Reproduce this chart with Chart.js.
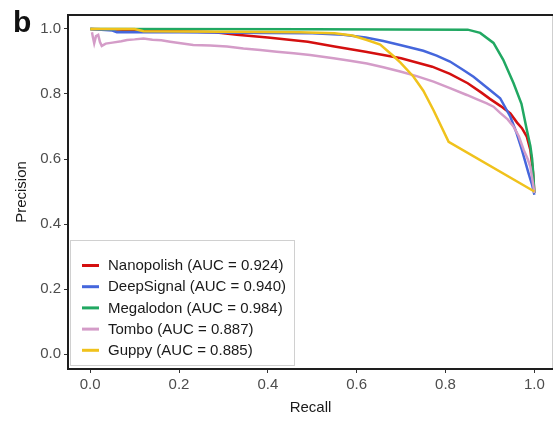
<!DOCTYPE html>
<html>
<head>
<meta charset="utf-8">
<script src="https://cdn.jsdelivr.net/npm/chart.js@4/dist/chart.umd.min.js"></script>
<style>
    html, body { margin: 0; padding: 0; background: #ffffff; }
    #wrap { width: 555px; height: 421px; position: relative; }
</style>
</head>
<body>
<div id="wrap"><canvas id="pr_chart"></canvas></div>
<script>
    'use strict';

    // series names and AUC values (from the legend)
    var series_names = ["Nanopolish", "DeepSignal", "Megalodon", "Tombo", "Guppy"];
    var series_auc = ["0.924", "0.940", "0.984", "0.887", "0.885"];
    var series_colors = ["#d40f0f", "#4566dc", "#21a862", "#d49cc8", "#f0c21c"];

    // tick values
    var x_ticks = [0, 0.2, 0.4, 0.6, 0.8, 1.0];
    var y_ticks = [0, 0.2, 0.4, 0.6, 0.8, 1.0];

    // recall / precision
    var recall_nanopolish = [0, 0.1, 0.2, 0.28, 0.33, 0.4, 0.49, 0.55, 0.62, 0.7, 0.77, 0.81, 0.85, 0.88, 0.9, 0.925, 0.946, 0.961, 0.972, 0.983, 0.991, 0.997, 1.0];
    var precision_nanopolish = [1.0, 0.997, 0.993, 0.99, 0.982, 0.974, 0.961, 0.946, 0.93, 0.91, 0.884, 0.862, 0.833, 0.805, 0.785, 0.762, 0.74, 0.712, 0.695, 0.669, 0.628, 0.56, 0.495];

    var recall_deepsignal = [0, 0.05, 0.06, 0.2, 0.4, 0.5, 0.57, 0.62, 0.66, 0.7, 0.75, 0.78, 0.81, 0.84, 0.863, 0.9, 0.923, 0.946, 0.96, 0.972, 0.987, 0.995, 1.0];
    var precision_deepsignal = [1.0, 0.995, 0.99, 0.99, 0.988, 0.987, 0.982, 0.974, 0.963, 0.95, 0.933, 0.918, 0.9, 0.874, 0.853, 0.812, 0.787, 0.73, 0.68, 0.628, 0.556, 0.52, 0.49];

    var recall_megalodon = [0, 0.03, 0.5, 0.85, 0.878, 0.908, 0.93, 0.953, 0.971, 0.983, 0.991, 0.995, 0.998, 1.0];
    var precision_megalodon = [1.0, 1.0, 0.999, 0.998, 0.988, 0.957, 0.905, 0.834, 0.77, 0.69, 0.64, 0.6, 0.545, 0.495];

    var recall_tombo = [0.004, 0.006, 0.009, 0.013, 0.018, 0.022, 0.026, 0.035, 0.05, 0.07, 0.083, 0.1, 0.12, 0.14, 0.16, 0.18, 0.2, 0.232, 0.27, 0.308, 0.345, 0.383, 0.42, 0.458, 0.495, 0.548, 0.585, 0.623, 0.66, 0.698, 0.735, 0.773, 0.81, 0.848, 0.87, 0.893, 0.908, 0.923, 0.94, 0.953, 0.965, 0.976, 0.985, 0.991, 0.997, 1.0];
    var precision_tombo = [0.99, 0.975, 0.956, 0.978, 0.982, 0.96, 0.948, 0.955, 0.958, 0.962, 0.966, 0.968, 0.971, 0.967, 0.965, 0.961, 0.957, 0.951, 0.949, 0.946, 0.94, 0.935, 0.93, 0.925, 0.92, 0.91, 0.902, 0.894, 0.882, 0.869, 0.855, 0.838, 0.818, 0.797, 0.784, 0.771, 0.761, 0.742, 0.722, 0.7, 0.67, 0.628, 0.6, 0.576, 0.525, 0.495];

    var recall_guppy = [0, 0.1, 0.12, 0.47, 0.55, 0.59, 0.623, 0.653, 0.68, 0.698, 0.728, 0.75, 0.773, 0.807, 1.0];
    var precision_guppy = [1.0, 1.0, 0.993, 0.99, 0.987, 0.98, 0.966, 0.952, 0.92, 0.897, 0.853, 0.81, 0.75, 0.653, 0.5];

    var series_recall = [recall_nanopolish, recall_deepsignal, recall_megalodon, recall_tombo, recall_guppy];
    var series_precision = [precision_nanopolish, precision_deepsignal, precision_megalodon, precision_tombo, precision_guppy];

    var font_family = "'Liberation Sans', Arial, sans-serif";

    function make_points(xs, ys) {
        var points = [];
        for (var i = 0; i < xs.length; i++) {
            points.push({ x: xs[i], y: ys[i] });
        }
        return points;
    }

    var datasets = [];
    for (var s = 0; s < series_names.length; s++) {
        datasets.push({
            label: series_names[s] + " (AUC = " + series_auc[s] + ")",
            data: make_points(series_recall[s], series_precision[s]),
            borderColor: series_colors[s],
            backgroundColor: series_colors[s],
            borderWidth: 2.5,
            pointRadius: 0,
            showLine: true,
            tension: 0,
            fill: false,
            order: series_names.length - s   // last series on top, like ggplot
        });
    }

    // panel border, panel letter and boxed legend
    var decorations = {
        id: 'decorations',
        afterDraw: function (chart) {
            var ctx = chart.ctx;
            var a = chart.chartArea;
            ctx.save();

            // light right edge, dark left/top/bottom
            ctx.strokeStyle = '#cfcfcf';
            ctx.lineWidth = 1;
            ctx.beginPath();
            ctx.moveTo(a.right - 0.5, a.top);
            ctx.lineTo(a.right - 0.5, a.bottom);
            ctx.stroke();

            ctx.strokeStyle = '#1e1e1e';
            ctx.lineWidth = 2;
            ctx.beginPath();
            ctx.moveTo(a.right, a.top);
            ctx.lineTo(a.left, a.top);
            ctx.lineTo(a.left, a.bottom);
            ctx.lineTo(a.right, a.bottom);
            ctx.stroke();

            // legend box
            var lx = 70, ly = 240, lw = 225, lh = 126;
            ctx.fillStyle = '#ffffff';
            ctx.fillRect(lx, ly, lw, lh);
            ctx.strokeStyle = '#d0d0d0';
            ctx.lineWidth = 1;
            ctx.strokeRect(lx + 0.5, ly + 0.5, lw - 1, lh - 1);

            ctx.font = '15px ' + font_family;
            ctx.textBaseline = 'middle';
            ctx.textAlign = 'left';
            chart.data.datasets.forEach(function (ds, i) {
                var cy = 265.5 + i * 21.2;
                ctx.strokeStyle = ds.borderColor;
                ctx.lineWidth = 3;
                ctx.beginPath();
                ctx.moveTo(82, cy);
                ctx.lineTo(99, cy);
                ctx.stroke();
                ctx.fillStyle = '#1a1a1a';
                ctx.fillText(ds.label, 108, cy + 0.5);
            });

            // panel letter
            ctx.fillStyle = '#111111';
            ctx.font = 'bold 30px ' + font_family;
            ctx.textBaseline = 'alphabetic';
            ctx.fillText('b', 13, 32);

            ctx.restore();
        }
    };

    var ctx = document.getElementById('pr_chart').getContext('2d');
    var chart_instance = new Chart(ctx, {
        type: 'scatter',
        data: { datasets: datasets },
        plugins: [decorations],
        options: {
            responsive: true,
            maintainAspectRatio: false,
            animation: false,
            layout: { padding: { top: 15, right: 2, bottom: 0, left: 0 } },
            plugins: {
                legend: { display: false },
                tooltip: { enabled: false }
            },
            scales: {
                x: {
                    type: 'linear',
                    min: -0.05,
                    max: 1.042,
                    afterFit: function (scale) { scale.height = 52; },
                    afterBuildTicks: function (scale) {
                        scale.ticks = x_ticks.map(function (v) { return { value: v }; });
                    },
                    border: { display: false },
                    grid: { drawOnChartArea: false, drawTicks: true, tickLength: 4, color: '#333333', lineWidth: 1 },
                    ticks: {
                        padding: 3,
                        color: '#4d4d4d',
                        font: { family: font_family, size: 15 },
                        maxRotation: 0,
                        callback: function (v) { return Number(v).toFixed(1); }
                    },
                    title: {
                        display: true,
                        text: 'Recall',
                        color: '#1a1a1a',
                        font: { family: font_family, size: 15 },
                        padding: { top: 0, bottom: 4 }
                    }
                },
                y: {
                    type: 'linear',
                    min: -0.046,
                    max: 1.043,
                    afterFit: function (scale) { scale.width = 68; },
                    afterBuildTicks: function (scale) {
                        scale.ticks = y_ticks.map(function (v) { return { value: v }; });
                    },
                    border: { display: false },
                    grid: { drawOnChartArea: false, drawTicks: true, tickLength: 4, color: '#333333', lineWidth: 1 },
                    ticks: {
                        padding: 3,
                        color: '#4d4d4d',
                        font: { family: font_family, size: 15 },
                        callback: function (v) { return Number(v).toFixed(1); }
                    },
                    title: {
                        display: true,
                        text: 'Precision',
                        color: '#1a1a1a',
                        font: { family: font_family, size: 15 },
                        padding: { top: 13, bottom: 0 }
                    }
                }
            }
        }
    });
</script>
</body>
</html>
